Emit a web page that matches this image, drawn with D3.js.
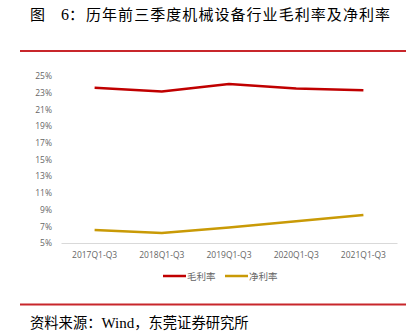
<!DOCTYPE html>
<html><head><meta charset="utf-8">
<script src="https://cdn.jsdelivr.net/npm/d3@7/dist/d3.min.js"></script>
<style>body{margin:0;background:#fff}svg{display:block}</style>
</head><body><svg id="c" width="418" height="331"></svg>
<script>
const categories = ["2017Q1-Q3","2018Q1-Q3","2019Q1-Q3","2020Q1-Q3","2021Q1-Q3"];
const grossMargin = [23.6, 23.15, 24.05, 23.5, 23.3];
const netMargin = [6.55, 6.2, 6.85, 7.6, 8.35];
const yTicks = [5,7,9,11,13,15,17,19,21,23,25];
const seriesNames = ["毛利率","净利率"];
const colors = ["#c00000","#c99a06"];
const titleParts = ["图","6：","历年前三季度机械设备行业毛利率及净利率"];
const sourceParts = ["资料来源：","Wind","，东莞证券研究所"];

const svg = d3.select("#c");
const cjk = "'Noto Sans CJK SC','Noto Sans',sans-serif";
const serif = "'Liberation Serif','DejaVu Serif',serif";

const t = svg.append("text").attr("y",20).attr("font-family",cjk)
  .attr("font-size",15).attr("fill","#000");
t.append("tspan").attr("x",30).text(titleParts[0]);
t.append("tspan").attr("x",61).attr("font-family",serif).attr("font-size",16).text(titleParts[1].slice(0,1));
t.append("tspan").attr("x",69).text(titleParts[1].slice(1));
t.append("tspan").attr("x",86).attr("textLength",304).attr("lengthAdjust","spacing").text(titleParts[2]);

svg.append("rect").attr("x",20).attr("y",50).attr("width",386).attr("height",2).attr("fill","#c8262b");
svg.append("rect").attr("x",20).attr("y",303.5).attr("width",386).attr("height",2).attr("fill","#c8262b");

const s = svg.append("text").attr("x",30).attr("y",328).attr("font-family",cjk)
  .attr("font-size",14.3).attr("fill","#000");
s.append("tspan").text(sourceParts[0]);
s.append("tspan").attr("font-family",serif).attr("font-size",15).text(sourceParts[1]);
s.append("tspan").text(sourceParts[2]);

const x = d3.scaleBand().domain(categories).range([61,397]);
const y = d3.scaleLinear().domain([5,25]).range([243,76]);

const tickFont = "'Open Sans','DejaVu Sans',sans-serif";
const yAxis = svg.append("g").attr("transform","translate(55,0)")
  .call(d3.axisLeft(y).tickValues(yTicks).tickFormat(d=>d+"%").tickSize(0).tickPadding(3));
yAxis.select(".domain").remove();
yAxis.selectAll("text").attr("font-family",tickFont).attr("font-size",8.5).attr("fill","#666");

const xAxis = svg.append("g").attr("transform","translate(0,243)")
  .call(d3.axisBottom(x).tickSize(0).tickPadding(9));
xAxis.select(".domain").attr("stroke","#d9d9d9").attr("stroke-width",1);
xAxis.selectAll("text").attr("font-family",tickFont).attr("font-size",8.5).attr("fill","#666");

const line = d3.line().x((d,i)=>x(categories[i])+x.bandwidth()/2).y(d=>y(d));
[grossMargin, netMargin].forEach((sr,k)=>{
  svg.append("path").datum(sr).attr("d",line).attr("fill","none")
    .attr("stroke",colors[k]).attr("stroke-width",2.5).attr("stroke-linejoin","round");
});

const legendX = [163, 225];
seriesNames.forEach((n,k)=>{
  const g = svg.append("g").attr("transform",`translate(${legendX[k]},276)`);
  g.append("line").attr("x1",0).attr("x2",23).attr("y1",0).attr("y2",0)
    .attr("stroke",colors[k]).attr("stroke-width",2.5);
  g.append("text").attr("x",24).attr("y",3.5).attr("font-family",cjk)
    .attr("font-size",9.5).attr("fill","#666").text(n);
});
</script></body></html>
